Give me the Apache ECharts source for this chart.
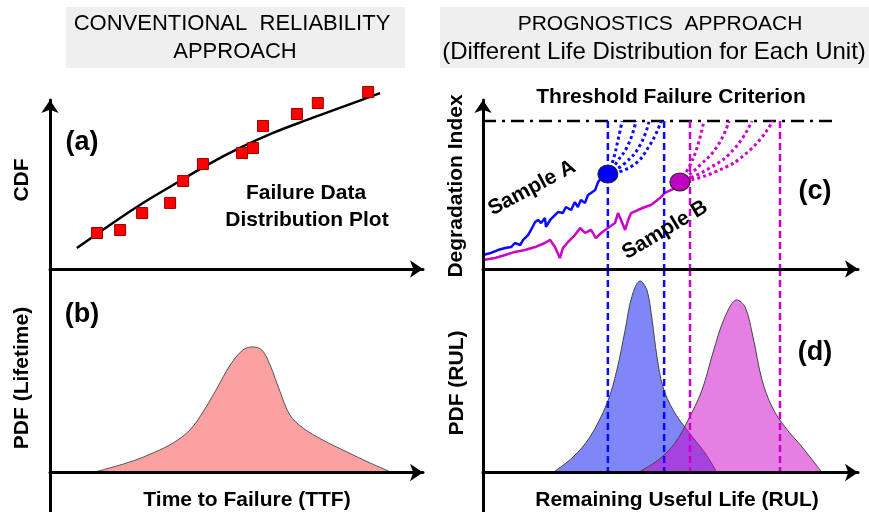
<!DOCTYPE html>
<html>
<head>
<meta charset="utf-8">
<script src="https://cdn.jsdelivr.net/npm/echarts@6/dist/echarts.min.js"></script>
<style>
  html, body { margin: 0; padding: 0; background: #fff; }
  #chart { width: 869px; height: 512px; }
</style>
</head>
<body>
<div id="chart"></div>
<script>
// (a) failure data [time, cdf] and fitted curve
var failureData = [[12.6, 21.3], [18.8, 23.1], [24.7, 33.1], [32.2, 39.1], [35.7, 52.1], [41.0, 62.1],
  [51.5, 68.6], [54.4, 71.6], [57.1, 84.6], [66.2, 91.7], [71.8, 98.2], [85.3, 104.7]];
var cdfFit = [[7.2, 12.4], [15.3, 24.9], [24.1, 37.9], [33.0, 49.7], [42.1, 61.5], [50.9, 71.6],
  [59.8, 80.5], [68.9, 88.2], [77.7, 95.3], [88.5, 104.1]];

// (b) lifetime pdf
var lifetimePdf = [[11.5, 0], [16.9, 2.7], [22.3, 5.7], [27.6, 9.6], [33.0, 14.5], [37.5, 20.9], [41.0, 29.7],
  [44.8, 41.5], [48.3, 52.8], [51.7, 60.2], [54.2, 61.7], [56.8, 60.2], [59.0, 52.8], [61.7, 39.6],
  [64.3, 28.3], [67.8, 21.9], [73.2, 15.9], [79.6, 10.1], [85.8, 4.7], [91.7, 0]];

// (c) degradation paths
var sampleA = [[0, 8.3], [2.1, 9.5], [4.0, 11.2], [5.9, 12.4], [7.5, 13.0], [8.5, 15.4], [9.9, 14.2], [10.7, 17.2],
  [12.0, 20.1], [12.8, 23.1], [13.9, 27.8], [14.7, 29.0], [15.5, 27.2], [16.5, 30.2], [16.8, 24.9], [17.9, 29.0],
  [18.7, 30.8], [20.0, 33.7], [21.3, 33.1], [22.1, 36.7], [23.5, 34.9], [24.5, 39.6], [25.3, 36.7], [26.1, 40.8],
  [27.2, 39.1], [28.0, 43.8], [28.8, 45.0], [29.9, 46.7], [30.7, 51.5], [31.5, 53.8], [33.3, 56.8]];
var sampleB = [[0, 5.3], [3.2, 6.5], [5.9, 8.3], [8.5, 10.1], [11.2, 11.2], [13.9, 13.0], [16.5, 15.4], [17.9, 17.2],
  [19.2, 13.0], [20.5, 6.5], [21.3, 12.4], [22.7, 16.0], [24.5, 20.1], [25.9, 24.3], [27.2, 21.3], [28.8, 23.1],
  [30.1, 18.3], [31.5, 21.3], [33.3, 24.3], [35.2, 27.2], [36.0, 33.1], [36.8, 29.0], [37.9, 23.1], [38.7, 29.0],
  [39.5, 33.1], [41.3, 34.9], [43.2, 36.7], [44.8, 37.9], [47.2, 42.0], [48.5, 45.0], [51.2, 47.9], [52.8, 50.9]];
var nowA = [33.3, 56.2];
var nowB = [52.5, 51.5];
var fanA = [
  [[33.3, 56.2], [34.7, 64.5], [36.0, 76.3], [37.1, 87.6]],
  [[33.3, 56.2], [35.7, 63.3], [38.7, 73.4], [40.8, 87.6]],
  [[33.3, 56.2], [37.9, 62.7], [41.9, 73.4], [44.3, 87.6]],
  [[33.3, 56.2], [39.7, 60.9], [44.5, 73.4], [47.5, 87.6]]
];
var fanB = [
  [[52.5, 51.5], [55.2, 61.5], [57.3, 73.4], [58.9, 87.6]],
  [[52.5, 51.5], [57.9, 61.5], [62.7, 73.4], [65.6, 87.6]],
  [[52.5, 51.5], [60.5, 59.8], [67.2, 71.6], [71.7, 87.6]],
  [[52.5, 51.5], [61.9, 57.4], [71.2, 70.4], [77.3, 87.6]]
];
var threshold = 87.6;
var thresholdEnd = 94.4;
var boundsA = [33.3, 48.3];
var boundsB = [55.2, 79.2];

// (d) RUL pdfs
var rulPdfA = [[18.7, 0], [24.0, 7.6], [28.5, 17.4], [33.1, 34.2], [35.7, 50.4], [37.9, 70.0], [39.7, 86.5],
  [41.9, 94.1], [43.7, 89.7], [45.1, 74.9], [46.4, 56.8], [48.0, 42.0], [50.7, 30.7], [54.4, 20.9],
  [59.2, 9.6], [62.4, 0]];
var rulPdfB = [[41.3, 0], [46.7, 6.1], [51.2, 14.5], [54.7, 25.8], [58.4, 40.5], [61.3, 58.7], [64.5, 76.4],
  [67.7, 84.8], [69.9, 81.3], [72.0, 66.6], [74.4, 45.5], [77.1, 32.2], [80.5, 22.4], [85.1, 12.5],
  [90.4, 0]];

var FONT = "'Liberation Sans', Arial, sans-serif";
var BLUE = '#0a0aff', MAG = '#cc00cc';

var myChart = echarts.init(document.getElementById('chart'));

function mkAxis(gi, min, arrow) {
  return {
    type: 'value', gridIndex: gi, min: min, max: 100, z: 10,
    axisLine: {
      show: true, onZero: true,
      symbol: arrow ? ['none', 'arrow'] : ['none', 'none'],
      symbolSize: [13, 13],
      lineStyle: { color: '#000', width: 3 }
    },
    axisTick: { show: false }, axisLabel: { show: false }, splitLine: { show: false }
  };
}

function txt(x, y, text, size, weight, rot) {
  return {
    type: 'text', x: x, y: y, rotation: rot || 0, z: 20,
    style: {
      text: text, font: (weight || 'bold') + ' ' + size + 'px ' + FONT, fill: '#000',
      textAlign: 'center', textVerticalAlign: 'middle', align: 'center', verticalAlign: 'middle'
    }
  };
}

function vline(xi, yi, x, y0, y1, color) {
  return {
    type: 'line', xAxisIndex: xi, yAxisIndex: yi, data: [[x, y0], [x, y1]], symbol: 'none', z: 6,
    clip: false, lineStyle: { color: color, width: 2.5, type: [7, 4] }
  };
}

function fan(lines, color) {
  return lines.map(function (d) {
    return {
      type: 'line', xAxisIndex: 2, yAxisIndex: 2, data: d, smooth: 0.5, symbol: 'none', clip: false, z: 4,
      lineStyle: { color: color, width: 3, type: [3, 3] }
    };
  });
}

var series = [
  { type: 'line', xAxisIndex: 0, yAxisIndex: 0, data: cdfFit, smooth: 0.4, symbol: 'none', clip: false,
    lineStyle: { color: '#000', width: 2.5 } },
  { type: 'scatter', xAxisIndex: 0, yAxisIndex: 0, data: failureData, symbol: 'rect', symbolSize: 11, clip: false, z: 5,
    itemStyle: { color: '#f00', borderColor: '#900', borderWidth: 1, opacity: 1 } },
  { type: 'line', xAxisIndex: 1, yAxisIndex: 1, data: lifetimePdf, smooth: 0.35, symbol: 'none',
    lineStyle: { color: '#555', width: 1 }, areaStyle: { color: '#fba1a1', opacity: 1 } },
  { type: 'line', xAxisIndex: 2, yAxisIndex: 2, data: [[0, threshold], [thresholdEnd, threshold]], symbol: 'none',
    lineStyle: { color: '#000', width: 2.5, type: [13, 6, 3, 6] } },
  { type: 'line', xAxisIndex: 2, yAxisIndex: 2, data: sampleA, symbol: 'none', z: 3,
    lineStyle: { color: BLUE, width: 2.5 } },
  { type: 'line', xAxisIndex: 2, yAxisIndex: 2, data: sampleB, symbol: 'none', z: 3,
    lineStyle: { color: MAG, width: 2.5 } },
  { type: 'line', xAxisIndex: 3, yAxisIndex: 3, data: rulPdfA, smooth: 0.35, symbol: 'none', z: 2,
    lineStyle: { color: '#444', width: 1 }, areaStyle: { color: '#7f86f7', opacity: 1 } },
  { type: 'line', xAxisIndex: 3, yAxisIndex: 3, data: rulPdfB, smooth: 0.35, symbol: 'none', z: 3,
    lineStyle: { color: '#444', width: 1 }, areaStyle: { color: 'rgba(205,0,199,0.5)', opacity: 1 } }
];
series = series.concat(fan(fanA, BLUE), fan(fanB, MAG));
boundsA.forEach(function (x) {
  series.push(vline(2, 2, x, threshold, 0, BLUE));
  series.push(vline(3, 3, x, 100, 0, BLUE));
});
boundsB.forEach(function (x) {
  series.push(vline(2, 2, x, threshold, 0, MAG));
  series.push(vline(3, 3, x, 100, 0, MAG));
});
series.push({ type: 'scatter', xAxisIndex: 2, yAxisIndex: 2, data: [nowA], symbol: 'circle', symbolSize: [20, 18], z: 8,
  itemStyle: { color: '#0000ff', borderColor: '#222', borderWidth: 1, opacity: 1 } });
series.push({ type: 'scatter', xAxisIndex: 2, yAxisIndex: 2, data: [nowB], symbol: 'circle', symbolSize: [20, 18], z: 8,
  itemStyle: { color: '#c000c0', borderColor: '#222', borderWidth: 1, opacity: 1 } });

var option = {
  animation: false,
  backgroundColor: '#fff',
  grid: [
    { left: 50, top: 100, width: 373, height: 169 },
    { left: 50, top: 269, width: 373, height: 243 },
    { left: 483, top: 100, width: 375, height: 169 },
    { left: 483, top: 269, width: 375, height: 243 }
  ],
  xAxis: [mkAxis(0, 0, true), mkAxis(1, 0, true), mkAxis(2, 0, true), mkAxis(3, 0, true)],
  yAxis: [mkAxis(0, 0, true), mkAxis(1, -19.4, false), mkAxis(2, 0, true), mkAxis(3, -19.4, false)],
  graphic: [
    { type: 'rect', shape: { x: 66, y: 7, width: 339, height: 61 }, style: { fill: '#efefef' }, z: 1 },
    { type: 'rect', shape: { x: 440, y: 7, width: 429, height: 61 }, style: { fill: '#efefef' }, z: 1 },
    txt(232, 24, 'CONVENTIONAL  RELIABILITY', 22, 'normal'),
    txt(235, 52, 'APPROACH', 22, 'normal'),
    txt(660, 24, 'PROGNOSTICS  APPROACH', 21, 'normal'),
    txt(654, 52, '(Different Life Distribution for Each Unit)', 24, 'normal'),
    txt(82, 143, '(a)', 27),
    txt(82, 315, '(b)', 27),
    txt(815, 192, '(c)', 27),
    txt(815, 353, '(d)', 27),
    txt(306, 193, 'Failure Data', 21),
    txt(307, 220, 'Distribution Plot', 21),
    txt(22, 180, 'CDF', 21, 'bold', Math.PI / 2),
    txt(22, 378, 'PDF (Lifetime)', 21, 'bold', Math.PI / 2),
    txt(247, 500, 'Time to Failure (TTF)', 21),
    txt(671, 97, 'Threshold Failure Criterion', 21),
    txt(456, 186, 'Degradation Index', 21, 'bold', Math.PI / 2),
    txt(457, 383, 'PDF (RUL)', 21, 'bold', Math.PI / 2),
    txt(677, 500, 'Remaining Useful Life (RUL)', 21),
    txt(532, 188, 'Sample A', 21, 'bold', 28 * Math.PI / 180),
    txt(665, 230, 'Sample B', 21, 'bold', 31 * Math.PI / 180)
  ],
  series: series
};

myChart.setOption(option);
window.addEventListener('resize', function () {
  myChart.resize();
});
</script>
</body>
</html>
